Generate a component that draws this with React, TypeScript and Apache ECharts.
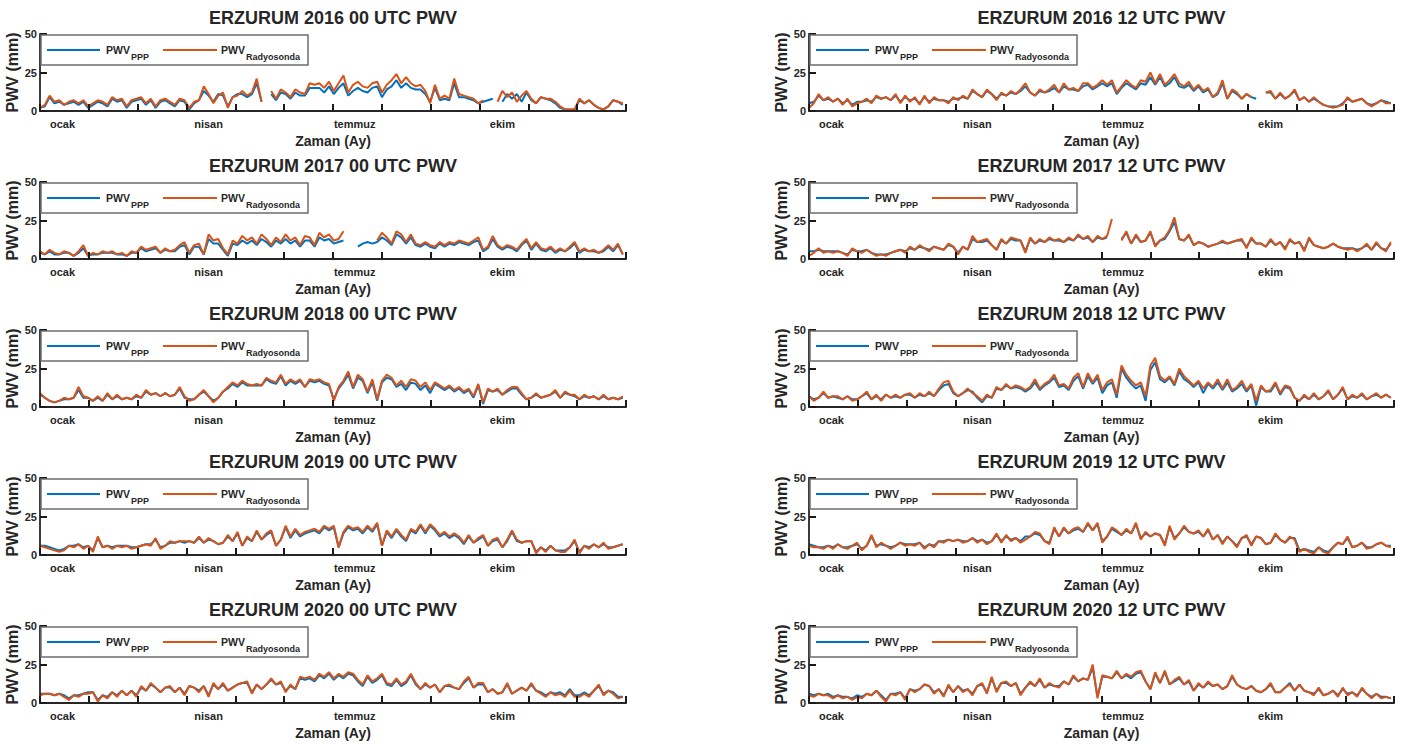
import React, { useEffect, useRef } from 'react';
import * as echarts from 'echarts';

// sample days (every third day of the year)
const DAYS: number[] = Array.from({ length: 122 }, (_, i) => i * 3);
const YEAR_DAYS = 365;
const MONTH_TICK_STEP = YEAR_DAYS / 12;
const LABEL_DAYS = [14, 105, 196, 288];
const LABEL_NAMES = ['ocak', 'nisan', 'temmuz', 'ekim'];

const N = null;

const RS_2016_00 = [2,4,10,6,7,4,6,7,5,7,3, 5,7,6,4,9,7,8,3,7,8, 9,5,8,3,7,8,6,4,8,7, 2,6,7,16,11,5,10,12,2,9, 10,13,10,12,21,6,N,13,8,14,12, 9,14,12,11,18,17,18,15,19,13, 18,23,12,17,19,16,15,18,19,12, 17,20,24,18,22,18,16,17,13,5, 17,8,10,8,21,11,10,9,8,5, 7,N,N,6,13,9,12,6,10,13, 8,5,9,8,8,6,3,1,1,1, 8,5,7,4,2,1,3,7,6,5];
const PPP_2016_00 = [2,3,9,5,6,4,5,6,4,6,2, 4,6,5,3,8,6,7,2,6,7, 8,4,7,2,6,7,5,3,7,6, 1,5,7,13,10,6,11,10,3,9, 11,11,9,11,18,6,N,11,7,12,11, 8,12,10,10,15,15,15,12,16,11, 15,18,10,13,15,13,12,15,16,9, 14,16,20,15,18,15,14,14,11,6, 15,7,8,7,18,9,9,8,7,5, 6,7,8,N,6,11,8,11,6,12, 7,5,9,8,7,5,2,1,1,1, 7,5,7,4,2,1,3,7,6,4];

const RS_2016_12 = [2,5,11,7,9,6,8,4,8,3,5, 6,8,5,10,8,9,7,11,5,10, 6,9,4,10,5,9,7,7,5,9, 7,10,8,14,11,9,14,11,7,12, 10,13,11,14,18,12,10,14,12,14,17, 12,18,14,15,13,18,18,15,17,20, 17,20,12,16,20,17,15,20,19,25, 18,24,17,20,24,18,16,19,14,17, 13,15,9,12,20,8,14,12,8,11, 9,N,N,12,13,8,12,8,10,14, 7,9,6,9,6,4,3,2,3,4, 9,6,7,8,5,3,5,7,5,5];
const PPP_2016_12 = [5,6,10,7,8,6,8,5,7,4,6, 6,7,6,9,8,9,7,10,6,9, 7,8,5,9,6,8,7,7,6,8, 8,9,8,13,11,9,13,11,8,11, 10,12,11,13,16,12,10,13,12,13,15, 12,16,14,14,13,16,17,14,16,18, 16,18,11,15,18,16,14,18,17,22, 17,22,16,18,22,16,15,17,13,16, 12,14,9,11,18,8,13,11,8,11, 9,8,N,12,12,8,11,8,10,13, 7,9,6,8,6,4,3,3,3,5, 8,6,7,8,5,4,5,7,6,5];

const RS_2017_00 = [5,3,6,4,3,5,4,2,5,9,2, 4,3,5,4,5,3,4,2,5,4, 8,6,7,8,4,7,5,6,9,11, 4,9,10,3,16,12,13,7,3,12, 10,15,12,14,10,16,13,9,14,11,16, 12,14,9,15,14,9,17,14,16,12, 13,18,N,N,N,N,N,N,12,17, 14,10,18,16,11,16,10,9,11,9, 8,11,9,11,10,12,11,10,12,14, 6,8,15,9,7,9,8,6,10,13, 7,11,7,6,8,5,7,5,8,11, 5,7,5,6,4,6,9,6,10,3];
const PPP_2017_00 = [4,3,5,3,3,4,4,2,4,7,2, 3,3,4,4,4,3,3,2,4,4, 7,5,6,7,4,6,5,5,8,9, 3,8,8,3,13,10,10,6,2,10, 9,12,10,12,9,13,11,8,12,10,13, 10,12,8,12,12,8,14,12,13,10, 11,12,N,N,8,10,11,10,11,14, 12,9,16,14,10,14,9,8,10,8, 7,10,8,10,9,11,10,9,11,12, 5,7,13,8,6,8,7,5,9,12, 6,10,6,5,7,4,6,5,7,10, 4,6,5,5,4,5,8,5,9,3];

const RS_2017_12 = [2,4,7,4,5,4,5,4,2,7,5, 4,6,4,2,3,2,4,5,6,4, 8,6,9,7,5,8,7,6,10,8, 3,8,6,15,11,12,13,9,6,13, 10,14,13,12,4,14,10,13,11,14,12, 13,11,14,12,16,13,15,11,15,13, 15,26,N,12,18,10,16,11,12,18, 8,12,14,19,27,13,12,16,9,11, 10,8,9,10,12,10,11,12,13,7, 14,10,10,8,13,9,11,6,13,10, 11,5,14,9,8,7,8,10,8,7, 6,7,5,7,10,6,11,7,5,11];
const PPP_2017_12 = [5,5,6,5,5,5,5,4,3,6,5, 5,6,4,3,3,3,4,5,6,5, 7,6,8,7,6,8,7,6,9,8, 4,8,6,13,11,11,12,9,6,12, 10,13,12,12,5,13,10,12,11,13,12, 12,11,13,12,15,13,14,11,14,13, 14,N,N,13,17,10,15,11,12,17, 9,12,13,18,24,13,12,15,9,11, 10,8,9,10,11,10,11,12,12,8, 13,10,10,8,12,9,11,7,12,10, 11,6,13,9,8,7,8,10,8,7, 7,7,6,7,9,6,10,7,6,10];

const RS_2018_00 = [9,6,4,3,4,6,5,6,13,7,6, 4,7,4,9,5,8,5,6,5,8, 6,11,8,9,7,9,7,8,13,7, 4,5,8,11,7,3,6,10,13,16, 14,17,15,14,15,14,19,17,16,21,15, 18,16,18,13,18,17,18,16,15,4, 13,17,23,13,21,18,10,18,5,17, 21,19,14,17,13,18,17,13,16,11, 16,14,12,14,11,13,10,12,7,15, 3,12,10,12,8,11,13,13,9,5, 6,9,6,7,8,11,6,10,8,8, 5,8,6,7,5,8,5,6,5,7];
const PPP_2018_00 = [8,6,4,3,4,5,5,6,11,6,6, 4,6,4,8,5,7,5,6,5,7, 6,10,8,9,7,9,7,8,12,6, 5,5,8,10,7,4,6,10,12,15, 13,16,14,14,14,14,18,16,15,20,14, 17,15,17,13,17,16,17,15,14,5, 12,16,21,12,19,17,9,16,4,16, 19,18,13,15,11,16,15,11,14,9, 15,13,11,13,10,12,9,11,6,14, 2,11,10,11,8,10,12,12,8,5, 6,8,6,7,8,10,6,9,8,7, 5,7,6,7,5,7,5,6,5,6];

const RS_2018_12 = [7,4,6,10,6,7,7,5,7,4,5, 7,10,5,8,4,8,6,8,6,8, 9,6,9,7,10,7,12,16,17,10, 7,9,12,9,7,4,8,6,13,11, 15,12,14,13,11,13,18,12,15,17,21, 14,15,12,19,22,13,22,16,21,11, 16,18,8,27,21,17,14,16,7,27, 32,20,17,20,15,25,20,17,14,17, 12,16,13,18,12,18,11,13,17,11, 15,4,14,10,11,16,9,14,13,6, 4,8,5,9,5,7,11,5,8,13, 5,8,6,9,5,7,9,6,8,6];
const PPP_2018_12 = [7,5,6,9,6,7,6,5,7,5,5, 7,9,5,7,5,8,6,7,6,8, 8,6,8,7,9,7,11,14,15,9, 7,9,11,10,6,3,7,6,12,11, 14,12,13,12,10,12,16,11,14,16,19, 13,14,11,17,20,12,20,15,19,9, 14,16,6,25,19,15,12,14,4,24, 29,18,16,19,14,23,18,16,13,16, 9,15,12,16,11,16,10,12,15,10, 14,1,13,10,10,15,8,13,12,6, 4,7,5,8,5,7,10,5,8,12, 5,7,6,8,5,7,8,6,8,6];

const RS_2019_00 = [6,5,4,3,2,3,6,5,7,4,6, 2,12,5,6,4,6,5,6,4,5, 6,7,6,11,4,6,9,8,9,9, 9,8,12,8,11,9,7,8,13,9, 15,6,12,9,16,10,14,16,6,10,19, 12,17,13,15,16,17,15,19,17,19, 5,15,19,17,18,15,19,16,21,6, 16,12,17,13,10,17,15,20,15,20, 17,13,15,12,14,12,8,13,8,11, 13,6,10,11,5,10,16,10,8,9, 9,1,5,2,6,3,2,2,5,10, 1,6,4,7,5,8,4,5,6,7];
const PPP_2019_00 = [6,6,5,4,3,4,6,6,7,5,6, 3,11,5,6,5,6,6,6,5,5, 6,7,7,10,5,6,8,8,9,8, 9,8,11,8,10,9,7,8,12,9, 14,6,11,9,15,10,13,15,6,10,18, 11,16,12,14,15,16,14,18,16,18, 5,14,18,16,17,14,18,15,20,6, 15,11,16,12,9,16,14,19,14,19, 16,12,14,11,13,11,7,12,8,10, 12,6,9,10,5,9,15,9,8,9, 9,2,5,3,6,3,3,3,5,9, 2,6,5,7,5,7,5,5,6,7];

const RS_2019_12 = [6,5,5,4,6,4,7,5,4,6,8, 3,6,13,5,8,6,4,6,8,6, 7,6,8,4,7,5,9,8,10,9, 10,8,9,11,8,10,7,9,14,8, 13,9,11,8,10,12,15,14,9,7,18, 12,18,14,17,18,15,21,16,21,8, 12,18,16,13,17,14,21,10,15,12, 14,13,6,19,10,14,19,15,14,16, 12,17,10,13,7,12,9,5,11,13, 6,12,11,7,8,14,10,8,12,10, 2,4,2,1,5,2,1,5,8,7, 12,5,6,8,4,5,7,8,6,5];
const PPP_2019_12 = [7,6,5,5,6,5,7,5,5,6,7, 4,6,12,6,7,6,5,6,8,7, 7,7,8,5,7,6,9,9,10,9, 10,9,9,11,9,10,8,9,13,9, 12,10,11,9,12,12,14,13,9,8,17, 12,17,14,16,17,15,20,16,20,9, 12,17,15,13,16,14,20,11,14,12, 14,13,7,18,11,14,18,15,14,15, 12,16,10,13,8,12,9,6,11,12, 7,12,11,7,8,13,10,8,11,11, 3,4,3,2,5,3,2,5,8,7, 11,5,6,8,5,5,7,8,6,6];

const RS_2020_00 = [5,6,6,5,6,4,2,5,4,6,6, 7,1,5,3,7,4,8,5,8,4, 11,8,13,10,7,10,11,7,10,5, 11,10,7,11,4,13,9,13,8,10, 12,13,14,6,12,9,12,16,12,14,7, 12,9,17,16,17,15,19,17,20,16, 19,17,20,19,15,12,18,14,16,19, 13,12,16,12,14,19,13,9,13,10, 12,7,11,12,10,9,14,17,10,13, 13,7,9,6,7,13,6,8,10,8, 13,8,6,4,7,5,6,4,8,4, 4,6,4,8,12,5,8,6,3,4];
const PPP_2020_00 = [6,6,6,5,6,5,3,5,5,6,7, 7,2,5,4,7,5,8,5,8,5, 10,8,12,10,7,10,10,7,10,6, 11,10,8,11,5,12,9,12,8,10, 12,13,13,7,12,9,12,15,12,13,8, 11,9,16,15,16,14,18,16,19,15, 18,16,19,18,14,11,17,13,15,18, 12,11,15,11,13,18,12,9,12,10, 12,7,11,11,10,9,13,16,10,12, 12,7,9,6,7,12,6,8,10,8, 12,8,7,5,7,6,7,5,9,5, 5,7,5,8,11,6,8,7,4,4];

const RS_2020_12 = [5,4,6,5,5,3,5,3,4,2,4, 3,6,5,8,4,1,6,5,7,2, 9,7,9,12,11,6,9,4,12,7, 11,7,9,5,11,13,6,17,7,13, 14,11,13,5,10,14,11,16,10,13,11, 10,14,12,18,14,16,15,25,3,18, 17,16,21,16,19,17,20,21,14,9, 20,13,21,12,15,17,12,15,8,13, 10,14,11,12,9,11,18,12,10,9, 11,8,7,9,13,7,7,10,12,8, 12,8,7,5,10,5,6,8,4,10, 5,7,4,10,6,3,6,3,4,3];
const PPP_2020_12 = [6,5,6,5,6,4,5,4,4,3,5, 4,6,5,8,5,2,6,6,7,3, 9,8,9,12,11,7,9,5,11,7, 11,8,9,6,11,12,7,16,8,13, 13,11,13,6,10,13,11,15,10,12,11, 11,14,12,17,14,16,15,23,4,17, 17,16,20,16,18,16,19,20,14,9, 19,13,20,12,14,16,12,14,8,12, 10,13,11,12,9,11,17,12,10,9, 11,8,7,9,12,7,7,10,13,8, 12,8,7,6,9,5,6,8,5,9, 6,7,5,9,6,4,6,4,4,3];

const TITLES = [
  'ERZURUM 2016 00 UTC PWV', 'ERZURUM 2016 12 UTC PWV',
  'ERZURUM 2017 00 UTC PWV', 'ERZURUM 2017 12 UTC PWV',
  'ERZURUM 2018 00 UTC PWV', 'ERZURUM 2018 12 UTC PWV',
  'ERZURUM 2019 00 UTC PWV', 'ERZURUM 2019 12 UTC PWV',
  'ERZURUM 2020 00 UTC PWV', 'ERZURUM 2020 12 UTC PWV',
];
const PPP_SERIES = [PPP_2016_00, PPP_2016_12, PPP_2017_00, PPP_2017_12, PPP_2018_00, PPP_2018_12, PPP_2019_00, PPP_2019_12, PPP_2020_00, PPP_2020_12];
const RS_SERIES = [RS_2016_00, RS_2016_12, RS_2017_00, RS_2017_12, RS_2018_00, RS_2018_12, RS_2019_00, RS_2019_12, RS_2020_00, RS_2020_12];

const FONT = '"Liberation Sans", Arial, Helvetica, sans-serif';
const INK = '#262626';
const BLUE = '#0072BD';
const ORANGE = '#D95319';

function toPairs(arr: (number | null)[]) {
  return DAYS.map((d, i) => [d, arr[i] == null ? '-' : arr[i]]);
}

function txt(x: number, y: number, text: string, size: number, align = 'left', vAlign = 'middle') {
  return {
    type: 'text', x, y, z: 10,
    style: {
      text, fill: INK, fontSize: size, fontWeight: 'bold', fontFamily: FONT,
      align, textAlign: align, verticalAlign: vAlign, textVerticalAlign: vAlign,
    },
  };
}

export default function App() {
  const ref = useRef<HTMLDivElement>(null);
  useEffect(() => {
    const chart = echarts.init(ref.current!, null, { renderer: 'svg' });
    const grid: any[] = [];
    const xAxis: any[] = [];
    const yAxis: any[] = [];
    const series: any[] = [];
    const graphic: any[] = [];
    const tickStyle = { color: '#1a1a1a', width: 2 };
    for (let k = 0; k < 10; k++) {
      const col = k % 2;
      const row = Math.floor(k / 2);
      const left = col ? 809 : 40;
      const width = col ? 585 : 586;
      const top = 34 + row * 148;
      const height = 77;
      grid.push({ left, top, width, height, containLabel: false });
      // main x axis: line, month labels, axis name
      xAxis.push({
        type: 'value', gridIndex: k, position: 'bottom', min: 0, max: YEAR_DAYS,
        axisLine: { show: true, lineStyle: { color: INK, width: 1.8 } },
        axisTick: { show: false },
        axisLabel: {
          show: true, customValues: LABEL_DAYS, margin: 7,
          formatter: (v: number) => LABEL_NAMES[LABEL_DAYS.indexOf(v)] ?? '',
          color: INK, fontSize: 11, fontWeight: 'bold', fontFamily: FONT,
        },
        splitLine: { show: false },
        name: 'Zaman (Ay)', nameLocation: 'middle', nameGap: 23,
        nameTextStyle: { color: INK, fontSize: 14, fontWeight: 'bold', fontFamily: FONT },
        z: 5,
      });
      // helper x axis: inward month tick marks only
      xAxis.push({
        type: 'value', gridIndex: k, position: 'bottom', offset: 0, min: 0, max: YEAR_DAYS,
        interval: MONTH_TICK_STEP,
        axisLine: { show: false, onZero: false },
        axisTick: { show: true, inside: true, length: 7, lineStyle: tickStyle },
        axisLabel: { show: false },
        splitLine: { show: false },
        z: 6,
      });
      yAxis.push({
        type: 'value', gridIndex: k, min: 0, max: 50, interval: 25,
        axisLine: { show: true, lineStyle: { color: INK, width: 1.8 } },
        axisTick: { show: true, inside: true, length: 7, lineStyle: tickStyle },
        axisLabel: { show: true, margin: 3, color: INK, fontSize: 11, fontWeight: 'bold', fontFamily: FONT },
        splitLine: { show: false },
        name: 'PWV (mm)', nameLocation: 'middle', nameGap: 17, nameRotate: 90,
        nameTextStyle: { color: INK, fontSize: 16, fontWeight: 'bold', fontFamily: FONT },
        z: 6,
      });
      series.push({
        type: 'line', name: 'PWV_PPP', xAxisIndex: 2 * k, yAxisIndex: k,
        data: toPairs(PPP_SERIES[k]), symbol: 'none', showSymbol: false, connectNulls: false,
        lineStyle: { color: BLUE, width: 2 }, itemStyle: { color: BLUE }, z: 2,
      });
      series.push({
        type: 'line', name: 'PWV_Radyosonda', xAxisIndex: 2 * k, yAxisIndex: k,
        data: toPairs(RS_SERIES[k]), symbol: 'none', showSymbol: false, connectNulls: false,
        lineStyle: { color: ORANGE, width: 2 }, itemStyle: { color: ORANGE }, z: 3,
      });
      // title
      graphic.push(txt(left + width / 2, 18 + row * 148, TITLES[k], 18, 'center'));
      // legend box
      const lx = col ? 810 : 41;
      const ly = 35 + row * 148;
      graphic.push({ type: 'rect', z: 9, shape: { x: lx, y: ly, width: 267, height: 30 }, style: { fill: '#fff', stroke: '#6e6e6e', lineWidth: 1.5 } });
      graphic.push({ type: 'line', z: 10, shape: { x1: lx + 6, y1: ly + 15, x2: lx + 59, y2: ly + 15 }, style: { stroke: BLUE, lineWidth: 2.2 } });
      graphic.push(txt(lx + 65, ly + 15, 'PWV', 10.5));
      graphic.push(txt(lx + 90, ly + 22, 'PPP', 9));
      graphic.push({ type: 'line', z: 10, shape: { x1: lx + 122, y1: ly + 15, x2: lx + 176, y2: ly + 15 }, style: { stroke: ORANGE, lineWidth: 2.2 } });
      graphic.push(txt(lx + 180, ly + 15, 'PWV', 10.5));
      graphic.push(txt(lx + 205, ly + 22, 'Radyosonda', 9));
    }
    chart.setOption({
      animation: false,
      backgroundColor: '#fff',
      grid, xAxis, yAxis, series, graphic,
    });
    return () => chart.dispose();
  }, []);
  return <div ref={ref} style={{ position: 'absolute', left: 0, top: 0, width: 1408, height: 744, background: '#fff' }} />;
}
